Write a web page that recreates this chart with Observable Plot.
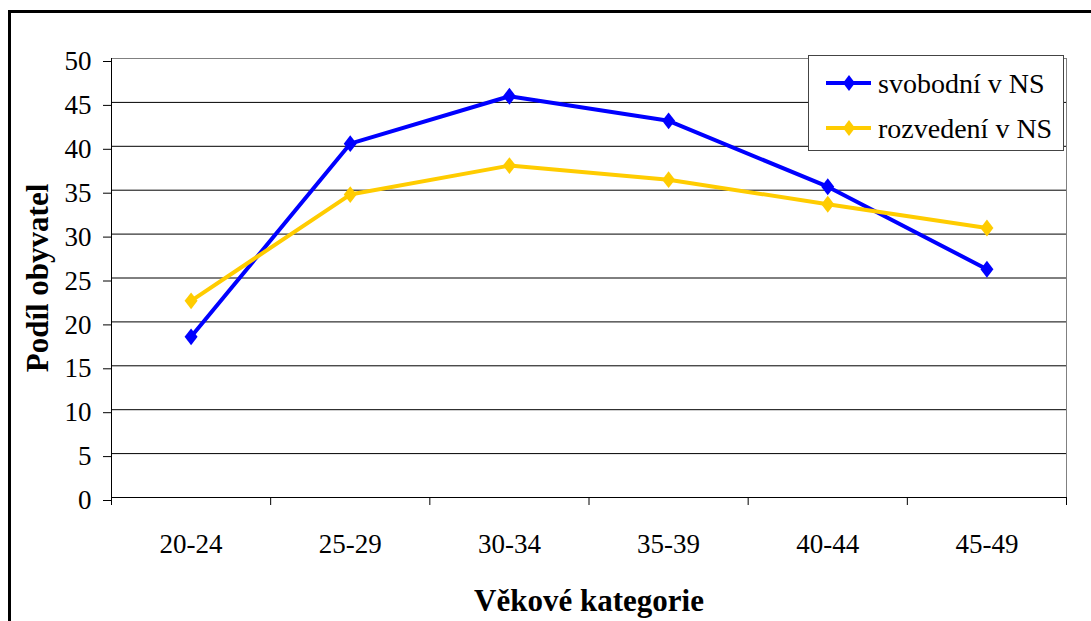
<!DOCTYPE html>
<html><head><meta charset="utf-8">
<script src="https://cdn.jsdelivr.net/npm/d3@7"></script>
<script src="https://cdn.jsdelivr.net/npm/@observablehq/plot@0.6"></script>
<style>
body{margin:0;background:#fff;}
#wrap{position:relative;width:1091px;height:621px;overflow:hidden;background:#fff;font-family:'Liberation Serif','Times New Roman',serif;}
#wrap svg, #wrap svg text{font-family:'Liberation Serif','Times New Roman',serif !important;}
#frame{position:absolute;left:8px;top:10px;width:1200px;height:700px;border-left:3px solid #000;border-top:3px solid #000;pointer-events:none;}
#legend{position:absolute;left:808px;top:55px;width:254px;height:94px;border:1px solid #444;background:#fff;}
</style></head><body><div id="wrap"><div id="frame"></div></div>
<script>
const categories = ["20-24", "25-29", "30-34", "35-39", "40-44", "45-49"];
const svobodni = [18.3, 40.3, 45.7, 42.9, 35.4, 26.0];
const rozvedeni = [22.4, 34.5, 37.8, 36.2, 33.4, 30.7];
const seriesNames = ["svobodní v NS", "rozvedení v NS"];
const seriesColors = ["#0000FF", "#FFCC00"];
const yTicks = d3.range(0, 51, 5);
const xTitle = "Věkové kategorie";
const yTitle = "Podíl obyvatel";

const data = [];
[svobodni, rozvedeni].forEach((vals, s) => vals.forEach((v, i) => data.push({i, value: v, series: seriesNames[s]})));

const diamond = {draw(ctx, size) {
  const w = Math.sqrt(size / Math.PI), h = w * 1.3;
  ctx.moveTo(0, -h); ctx.lineTo(w, 0); ctx.lineTo(0, h); ctx.lineTo(-w, 0); ctx.closePath();
}};

const serif = "'Liberation Serif', 'Times New Roman', serif";
const chart = Plot.plot({
  width: 1091, height: 621,
  marginLeft: 111, marginRight: 25, marginTop: 58, marginBottom: 124,
  style: {fontFamily: serif, fontSize: "27px", color: "#000", background: "transparent", overflow: "visible"},
  x: {domain: [0, categories.length]},
  y: {domain: [0, 50]},
  color: {domain: seriesNames, range: seriesColors},
  marks: [
    Plot.gridY(yTicks, {stroke: "#000", strokeOpacity: 1}),
    Plot.frame({stroke: "#808080"}),
    Plot.ruleY([0], {stroke: "#000"}),
    Plot.ruleX([0], {stroke: "#000"}),
    Plot.axisY(yTicks, {tickSize: 8, tickPadding: 12, label: null, dy: 3, fontSize: 27}),
    Plot.axisX(d3.range(categories.length + 1), {tickSize: 8, tickFormat: () => "", label: null}),
    Plot.axisX(categories.map((c, i) => i + 0.5), {tickSize: 0, tickPadding: 36, fontSize: 27, tickFormat: v => categories[Math.round(v - 0.5)], label: null}),
    Plot.line(data, {x: d => d.i + 0.5, y: "value", z: "series", stroke: "series", strokeWidth: 4}),
    Plot.dot(data, {x: d => d.i + 0.5, y: "value", fill: "series", r: 6.5, symbol: diamond}),
    Plot.text([yTitle], {frameAnchor: "left", textAnchor: "middle", dx: -73, rotate: -90, fontWeight: "bold", fontSize: 31}),
    Plot.text([xTitle], {frameAnchor: "bottom", dy: 113, fontWeight: "bold", fontSize: 31})
  ]
});
const wrap = document.getElementById("wrap");
wrap.insertBefore(chart, wrap.firstChild);
chart.style.position = "absolute"; chart.style.left = "0"; chart.style.top = "0";

// legend
const leg = d3.select(wrap).append("div").attr("id", "legend");
const lsvg = leg.append("svg").attr("width", 254).attr("height", 94).style("font-size", "28px");
seriesNames.forEach((name, k) => {
  const y = 27 + k * 45;
  const g = lsvg.append("g").attr("transform", `translate(0,${y})`);
  g.append("line").attr("x1", 17).attr("x2", 62).attr("stroke", seriesColors[k]).attr("stroke-width", 4);
  g.append("path").attr("d", "M40,-8L46,0L40,8L34,0Z").attr("fill", seriesColors[k]);
  g.append("text").attr("x", 69).attr("dy", "0.35em").text(name);
});
</script>
</body></html>
